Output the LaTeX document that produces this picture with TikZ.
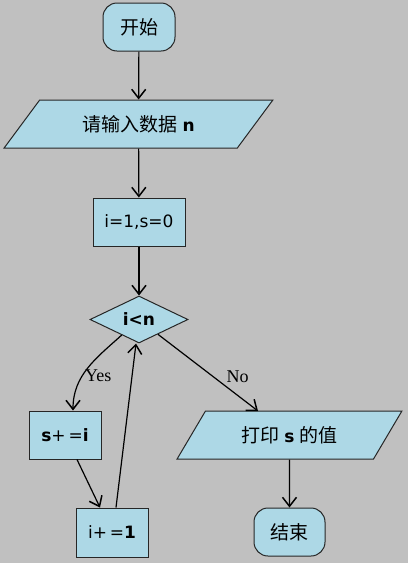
\documentclass[tikz,border=0pt]{standalone}
\usepackage{fontspec}
\setmainfont{DejaVu Sans}
\newfontfamily\cjk{Noto Sans CJK SC}
\newfontfamily\lblfont{Liberation Serif}
\usetikzlibrary{arrows.meta,shapes.geometric}
\definecolor{boxblue}{RGB}{173,216,230}
\definecolor{bggray}{RGB}{192,192,192}
\newcommand{\zh}[1]{{\cjk\fontsize{19}{22}\selectfont #1}}

\begin{document}
\begin{tikzpicture}[x=1pt,y=-1pt,
    >={Straight Barb[length=9pt,width=14pt,line width=1.5pt]},
    box/.style={draw=black!85,line width=1pt,fill=boxblue,inner sep=0pt,
      font=\fontsize{17}{20}\selectfont},
    term/.style={box,rounded corners=14pt,minimum width=72pt,minimum height=48pt},
    proc/.style={box,minimum width=72pt,minimum height=48pt},
    io/.style={box,trapezium,trapezium stretches=true,minimum height=48pt},
    decision/.style={box,diamond,aspect=2,minimum width=98pt,minimum height=47pt},
    flow/.style={->,line width=1.2pt},
    lbl/.style={font=\lblfont\fontsize{18}{21}\selectfont,inner sep=2pt}]
  \useasboundingbox (0,0) rectangle (408,563);
  \fill[bggray] (0,0) rectangle (408,563);
  % 节点
  \node[term] (start) at (139,27) {\zh{开始}};
  \node[io,trapezium left angle=41,trapezium right angle=139,minimum width=269pt]
    (read) at (138.5,124) {\zh{请输入数据}\ \textbf{n}};
  \node[proc,minimum width=92pt] (init) at (139,222) {i=1,s=0};
  \node[decision] (cond) at (139,319.5) {\textbf{i<n}};
  \node[proc] (sum) at (65,435) {\textbf{s}+\,=\textbf{i}};
  \node[proc,minimum height=49pt] (incr) at (112,532.5) {i+\,=\textbf{1}};
  \node[io,trapezium left angle=47,trapezium right angle=133,minimum width=225pt]
    (out) at (289.5,435) {\zh{打印}\ \textbf{s}\ \zh{的值}};
  \node[term,minimum width=71pt] (stop) at (289.5,532) {\zh{结束}};
  % 连线
  \draw[flow] (start) -- (read);
  \draw[flow] (read) -- (init);
  \draw[flow] (init) -- (cond);
  \draw[flow] (cond.222) to[out=222,in=90] node[pos=0.6,right,lbl] {Yes} ([xshift=8pt]sum.north);
  \draw[flow] ([xshift=12pt]sum.south) -- ([xshift=-12pt]incr.north);
  \draw[flow] ([xshift=4pt]incr.north) -- ([xshift=-3pt]cond.south);
  \draw[flow] (cond.322) -- node[pos=0.66,above right,lbl] {No} ([shift={(-31.5,-24)}]out.center);
  \draw[flow] (out) -- (stop);
\end{tikzpicture}
\end{document}
